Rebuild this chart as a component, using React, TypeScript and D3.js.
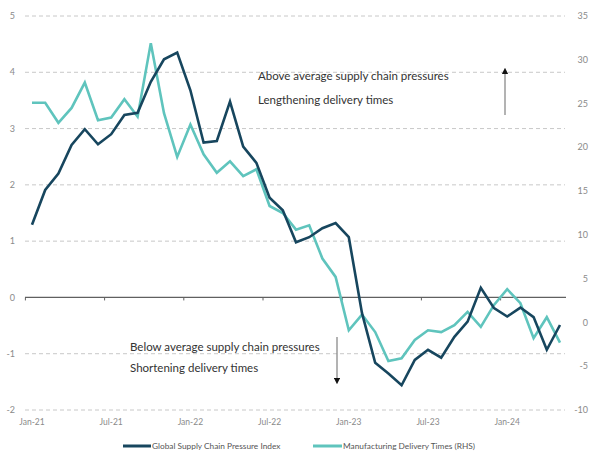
import React from 'react';
import * as d3 from 'd3';

// monthly, Jan-21 .. May-24
const months = d3.timeMonths(new Date(2021, 0, 1), new Date(2024, 5, 1));

const gscpi = [
  1.29, 1.91, 2.2, 2.71, 2.99, 2.72, 2.9, 3.24, 3.28, 3.83, 4.23, 4.35,
  3.68, 2.75, 2.78, 3.48, 2.68, 2.39, 1.77, 1.55, 0.98, 1.07, 1.23, 1.32,
  1.07, -0.28, -1.16, -1.35, -1.56, -1.11, -0.93, -1.07, -0.7, -0.43, 0.17, -0.19,
  -0.34, -0.18, -0.35, -0.93, -0.49,
];

const deliveryTimes = [
  25.1, 25.1, 22.8, 24.5, 27.4, 23.1, 23.4, 25.5, 23.5, 31.9, 23.9, 18.9,
  22.6, 19.2, 17.1, 18.4, 16.7, 17.5, 13.3, 12.5, 10.6, 11.1, 7.3, 5.2,
  -0.9, 0.9, -1.1, -4.4, -4.1, -2.0, -0.9, -1.1, -0.3, 1.2, -0.5, 2.0,
  3.8, 2.2, -1.8, 0.6, -2.3,
];

const leftTicks = [5, 4, 3, 2, 1, 0, -1, -2];
const rightTicks = [35, 30, 25, 20, 15, 10, 5, 0, -5, -10];

const seriesNames = ['Global Supply Chain Pressure Index', 'Manufacturing Delivery Times (RHS)'];
const aboveText = ['Above average supply chain pressures', 'Lengthening delivery times'];
const belowText = ['Below average supply chain pressures', 'Shortening delivery times'];

const W = 594;
const H = 453;
const DARK = '#17465e';
const TEAL = '#5fc4bd';
const FONT = 'Lato, "Open Sans", sans-serif';

export default function App() {
  const x = d3.scaleBand<Date>().domain(months).range([25.4, 566.6]).padding(0);
  const cx = (d: Date) => (x(d) ?? 0) + x.bandwidth() / 2;
  const yL = d3.scaleLinear().domain([-2, 5]).range([410, 16]);
  const yR = d3.scaleLinear().domain([-10, 35]).range([410, 16]);
  const fmt = d3.timeFormat('%b-%y');

  const lineL = d3.line<number>().x((_, i) => cx(months[i])).y((d) => yL(d));
  const lineR = d3.line<number>().x((_, i) => cx(months[i])).y((d) => yR(d));

  const labelMonths = months.filter((_, i) => i % 6 === 0);

  return (
    <svg
      width={W}
      height={H}
      style={{ position: 'absolute', left: 0, top: 0, background: '#fff', fontFamily: FONT }}
    >
      {/* gridlines from the left axis */}
      {leftTicks.filter((t) => t !== 0).map((t) => (
        <line key={t} x1={25} x2={565} y1={yL(t)} y2={yL(t)} stroke="#c8c8c8" strokeDasharray="4 3" strokeWidth={1} />
      ))}
      {/* zero axis */}
      <line x1={25} x2={566} y1={yL(0)} y2={yL(0)} stroke="#606060" strokeWidth={1.2} />
      {months.map((m, i) =>
        i % 6 === 0 ? (
          <line key={i} x1={x(m)} x2={x(m)} y1={yL(0)} y2={yL(0) + 3} stroke="#606060" strokeWidth={1} />
        ) : null
      )}

      {/* left axis labels */}
      {leftTicks.map((t) => (
        <text key={t} x={15} y={yL(t)} dy="0.35em" textAnchor="end" fontSize={9} fill="#8a8a8a">
          {t}
        </text>
      ))}
      {/* right axis labels */}
      {rightTicks.map((t) => (
        <text key={t} x={588} y={yR(t)} dy="0.35em" textAnchor="end" fontSize={9} fill="#8a8a8a">
          {t}
        </text>
      ))}
      {/* x labels */}
      {labelMonths.map((m) => (
        <text key={+m} x={cx(m)} y={422} dy="0.35em" textAnchor="middle" fontSize={8.5} fill="#8a8a8a">
          {fmt(m)}
        </text>
      ))}

      {/* series */}
      <path d={lineR(deliveryTimes) ?? ''} fill="none" stroke={TEAL} strokeWidth={2.6} strokeLinejoin="miter" />
      <path d={lineL(gscpi) ?? ''} fill="none" stroke={DARK} strokeWidth={2.6} strokeLinejoin="miter" />

      {/* annotations */}
      <defs>
        <marker id="head" viewBox="0 0 10 10" refX="5" refY="5" markerWidth="5" markerHeight="5" orient="auto">
          <path d="M0,0 L10,5 L0,10 z" fill="#111" />
        </marker>
      </defs>
      {aboveText.map((t, i) => (
        <text key={t} x={258} y={76 + i * 24} dy="0.35em" fontSize={11.5} fill="#333">
          {t}
        </text>
      ))}
      <line x1={505} x2={505} y1={115} y2={71} stroke="#8a8a8a" strokeWidth={1.3} markerEnd="url(#head)" />
      {belowText.map((t, i) => (
        <text key={t} x={130} y={347 + i * 21} dy="0.35em" fontSize={11.5} fill="#333">
          {t}
        </text>
      ))}
      <line x1={337} x2={337} y1={337} y2={381} stroke="#8a8a8a" strokeWidth={1.3} markerEnd="url(#head)" />

      {/* legend */}
      <line x1={123} x2={151} y1={446} y2={446} stroke={DARK} strokeWidth={3} />
      <text x={152} y={446} dy="0.35em" fontSize={8.3} fill="#555">{seriesNames[0]}</text>
      <line x1={313} x2={342} y1={446} y2={446} stroke={TEAL} strokeWidth={3} />
      <text x={343} y={446} dy="0.35em" fontSize={8.3} fill="#555">{seriesNames[1]}</text>
    </svg>
  );
}
